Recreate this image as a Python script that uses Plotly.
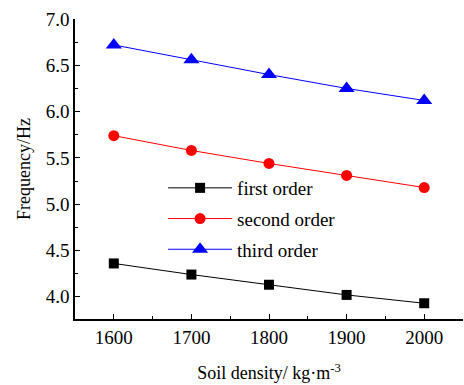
import plotly.graph_objects as go

density = [1600, 1700, 1800, 1900, 2000]
first_order = [4.36, 4.24, 4.13, 4.02, 3.93]
second_order = [5.74, 5.58, 5.44, 5.31, 5.18]
third_order = [6.72, 6.56, 6.40, 6.25, 6.12]

FONT = "Liberation Serif"

fig = go.Figure()
fig.add_trace(go.Scatter(x=density, y=first_order, name="first order", mode="lines+markers",
                         legendgroup="a",
                         line=dict(color="black", width=1),
                         marker=dict(symbol="square", size=10, color="black")))
fig.add_trace(go.Scatter(x=density, y=second_order, name="second order", mode="lines+markers",
                         legendgroup="b",
                         line=dict(color="#ff0000", width=1),
                         marker=dict(symbol="circle", size=11, color="#ff0000")))
fig.add_trace(go.Scatter(x=density, y=third_order, name="third order", mode="lines+markers",
                         legendgroup="c",
                         line=dict(color="#0000ff", width=1),
                         marker=dict(symbol="triangle-up", size=14, color="#0000ff")))

fig.update_layout(
    width=464, height=385,
    margin=dict(l=75, r=1, t=19, b=66),
    paper_bgcolor="white", plot_bgcolor="white",
    font=dict(family=FONT, size=18, color="black"),
    showlegend=True,
    legend=dict(x=0.227, y=0.50, xanchor="left", yanchor="top",
                bgcolor="rgba(0,0,0,0)", font=dict(size=19, family=FONT),
                itemwidth=64, tracegroupgap=3),
)
fig.update_xaxes(
    range=[1550, 2050], tickvals=density, ticktext=[str(v) for v in density],
    showline=True, linecolor="black", linewidth=1.5, mirror=False,
    ticks="inside", ticklen=5, tickwidth=1, tickcolor="black",
    minor=dict(ticks="inside", ticklen=3, dtick=50, tick0=1550, tickcolor="black"),
    showgrid=False, zeroline=False,
    tickfont=dict(size=19, family=FONT),
    title=dict(text="Soil density/ kg·m<sup>-3</sup>", font=dict(size=18, family=FONT), standoff=20),
)
fig.update_yaxes(
    range=[3.76, 7.0], dtick=0.5, tick0=4.0, tickformat=".1f",
    showline=True, linecolor="black", linewidth=1.5, mirror=False,
    ticks="inside", ticklen=5, tickwidth=1, tickcolor="black",
    minor=dict(ticks="inside", ticklen=3, dtick=0.25, tick0=4.0, tickcolor="black"),
    showgrid=False, zeroline=False,
    tickfont=dict(size=19, family=FONT),
    title=dict(text="Frequency/Hz", font=dict(size=18, family=FONT), standoff=10),
)

fig.write_html("out.html")
